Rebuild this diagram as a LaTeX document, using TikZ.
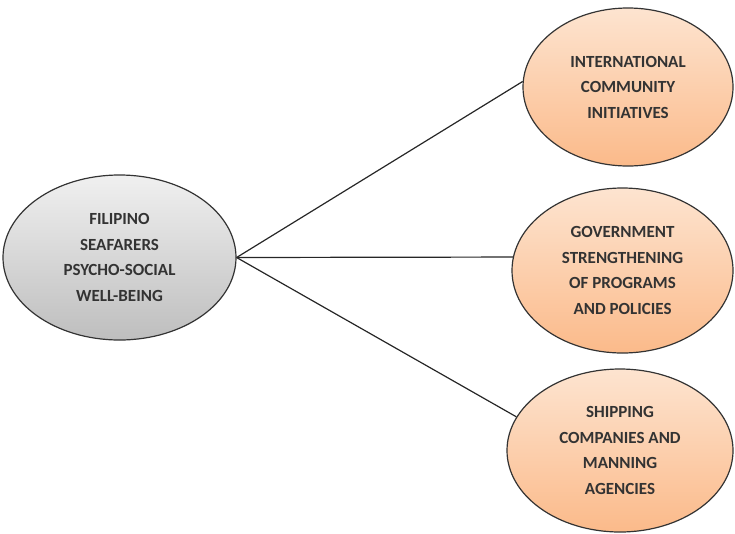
\documentclass[tikz,border=0pt]{standalone}
\usepackage{fontspec}
\setmainfont{Carlito}
\usetikzlibrary{shapes.geometric}
\definecolor{grtop}{RGB}{240,240,240}
\definecolor{grbot}{RGB}{190,190,190}
\definecolor{ortop}{RGB}{253,228,208}
\definecolor{orbot}{RGB}{251,186,138}
\begin{document}
\begin{tikzpicture}[x=1pt,y=-1pt,
  bubble/.style={ellipse,draw=black!80,line width=1.2pt,inner sep=0pt,align=center,
    font=\bfseries\fontsize{17}{25.5}\selectfont,text=black!80},
  grayb/.style={bubble,top color=grtop,bottom color=grbot},
  orangeb/.style={bubble,top color=ortop,bottom color=orbot},
  link/.style={draw=black!85,line width=1.2pt}]
\useasboundingbox (0,0) rectangle (735,533);
\node[grayb,minimum width=233pt,minimum height=165pt] (main) at (119.5,257.5) {FILIPINO\\SEAFARERS\\PSYCHO-SOCIAL\\WELL-BEING};
\node[orangeb,minimum width=210pt,minimum height=158pt] (intl) at (628,87) {INTERNATIONAL\\COMMUNITY\\INITIATIVES};
\node[orangeb,minimum width=221pt,minimum height=165pt] (gov) at (622.5,270.5) {GOVERNMENT\\STRENGTHENING\\OF PROGRAMS\\AND POLICIES};
\node[orangeb,minimum width=226pt,minimum height=163pt] (ship) at (620,450.5) {SHIPPING\\COMPANIES AND\\MANNING\\AGENCIES};
\draw[link] (main.east) -- (intl.177);
\draw[link] (main.east) -- (gov.173);
\draw[link] (main.east) -- (ship.162);
\end{tikzpicture}
\end{document}
